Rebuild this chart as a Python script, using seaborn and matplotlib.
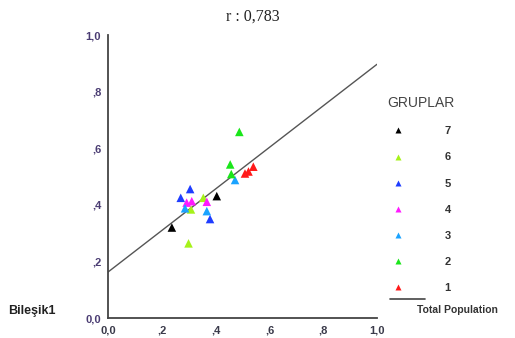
import numpy as np
import pandas as pd
import matplotlib.pyplot as plt
import seaborn as sns
from matplotlib.lines import Line2D

# values
groups = ['7', '7',
          '6', '6', '6',
          '5', '5', '5',
          '4', '4', '4',
          '3', '3', '3',
          '2', '2', '2',
          '1', '1', '1']
x_vals = [0.237, 0.404,
          0.354, 0.308, 0.299,
          0.305, 0.270, 0.379,
          0.311, 0.292, 0.367,
          0.472, 0.286, 0.367,
          0.488, 0.454, 0.458,
          0.540, 0.522, 0.509]
y_vals = [0.320, 0.431,
          0.425, 0.384, 0.264,
          0.456, 0.425, 0.350,
          0.413, 0.408, 0.411,
          0.488, 0.388, 0.378,
          0.658, 0.543, 0.509,
          0.535, 0.518, 0.511]
group_order = ['7', '6', '5', '4', '3', '2', '1']
group_colors = ['#000000', '#a6f21a', '#1f3dff', '#ff1aff', '#1aa3ff', '#1ae61a', '#ff1a1a']
fit_intercept = 0.163
fit_slope = 0.734
tick_vals = [0.0, 0.2, 0.4, 0.6, 0.8, 1.0]
tick_labels = ['0,0', ',2', ',4', ',6', ',8', '1,0']

df = pd.DataFrame({'x': x_vals, 'y': y_vals, 'grup': groups})

sns.set_style('white')
plt.rcParams['font.family'] = ['Liberation Sans', 'DejaVu Sans']

fig = plt.figure(figsize=(5.15, 3.38), dpi=100)
ax = fig.add_axes([0.21, 0.059, 0.522, 0.837])

# total population fit line
line_x = np.array([0.0, 1.0])
ax.plot(line_x, fit_intercept + fit_slope * line_x, color='#555555', lw=1.0, zorder=1)

sns.scatterplot(data=df, x='x', y='y', hue='grup', hue_order=group_order,
                palette=group_colors, marker='^', s=38, edgecolor='none', ax=ax, zorder=3)

ax.set_xlim(0, 1)
ax.set_ylim(0, 1)
ax.set_xticks(tick_vals)
ax.set_xticklabels(tick_labels, fontsize=8, fontweight='bold', color='#3a3a4a')
ax.set_yticks(tick_vals)
ax.set_yticklabels(tick_labels, fontsize=8, fontweight='bold', color='#4b3d73')
ax.tick_params(axis='both', length=3, width=1.5, color='#222222', direction='out', pad=2)
ax.set_xlabel('')
ax.set_ylabel('')
for side in ['top', 'right']:
    ax.spines[side].set_visible(False)
for side in ['left', 'bottom']:
    ax.spines[side].set_color('#444444')
    ax.spines[side].set_linewidth(1.3)

sns.move_legend(ax, loc='upper left', bbox_to_anchor=(1.02, 0.8), frameon=False,
                title='GRUPLAR', fontsize=8, title_fontsize=10, labelspacing=1.45,
                handletextpad=3.2, borderaxespad=0, markerscale=0.8)
leg = ax.get_legend()
leg._legend_box.align = 'left'
leg.get_title().set_color('#444444')
for t in leg.get_texts():
    t.set_fontweight('bold')
    t.set_color('#333333')

# total population legend entry
fig.add_artist(Line2D([390 / 515, 425 / 515], [1 - 299 / 338, 1 - 299 / 338],
                      color='#444444', lw=1.2))
fig.text(417 / 515, 1 - 310 / 338, 'Total Population', fontsize=7.5,
         fontweight='bold', color='#333333', va='center', ha='left')

fig.text(253 / 515, 1 - 17 / 338, 'r : 0,783', fontsize=11.5,
         family='Liberation Serif', ha='center', va='center', color='#222222')
fig.text(8 / 515, 1 - 311 / 338, 'Bileşik1', fontsize=9, fontweight='bold',
         color='#222222', va='center', ha='left')

fig.savefig('out.png', dpi=100)
